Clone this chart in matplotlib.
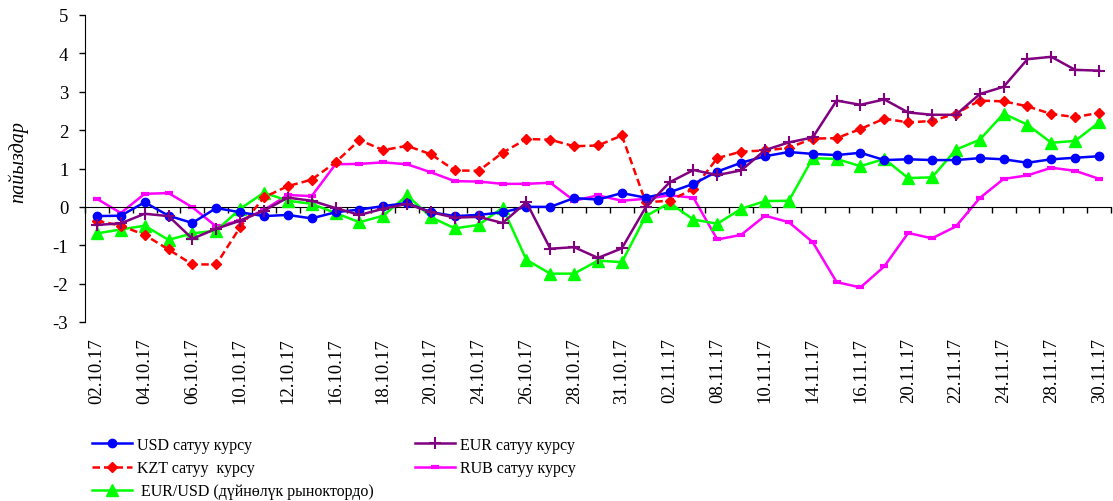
import numpy as np
import matplotlib
matplotlib.use("Agg")
import matplotlib.pyplot as plt

plt.rcParams['font.family'] = ['Liberation Serif', 'DejaVu Serif']
plt.rcParams['axes.unicode_minus'] = False

dates = ['02.10.17', '03.10.17', '04.10.17', '05.10.17', '06.10.17', '09.10.17', '10.10.17',
         '11.10.17', '12.10.17', '13.10.17', '16.10.17', '17.10.17', '18.10.17', '19.10.17',
         '20.10.17', '23.10.17', '24.10.17', '25.10.17', '26.10.17', '27.10.17', '28.10.17',
         '30.10.17', '31.10.17', '01.11.17', '02.11.17', '06.11.17', '08.11.17', '09.11.17',
         '10.11.17', '13.11.17', '14.11.17', '15.11.17', '16.11.17', '17.11.17', '20.11.17',
         '21.11.17', '22.11.17', '23.11.17', '24.11.17', '27.11.17', '28.11.17', '29.11.17',
         '30.11.17']

usd = [-0.24, -0.23, 0.12, -0.23, -0.42, -0.03, -0.14, -0.24, -0.21, -0.30, -0.14, -0.07,
       0.02, 0.10, -0.14, -0.24, -0.21, -0.14, 0.00, 0.00, 0.23, 0.19, 0.36, 0.24, 0.38,
       0.60, 0.92, 1.15, 1.32, 1.43, 1.38, 1.35, 1.41, 1.22, 1.24, 1.22, 1.22, 1.27, 1.24,
       1.15, 1.24, 1.28, 1.32]
kzt = [-0.36, -0.49, -0.73, -1.11, -1.50, -1.50, -0.53, 0.25, 0.54, 0.71, 1.16, 1.74,
       1.48, 1.59, 1.37, 0.95, 0.94, 1.41, 1.77, 1.75, 1.58, 1.60, 1.86, 0.12, 0.16, 0.47,
       1.27, 1.44, 1.47, 1.54, 1.78, 1.79, 2.03, 2.30, 2.20, 2.24, 2.43, 2.77, 2.75, 2.62,
       2.42, 2.34, 2.45]
eurusd = [-0.69, -0.59, -0.49, -0.86, -0.69, -0.62, -0.05, 0.37, 0.16, 0.08, -0.16, -0.40,
          -0.23, 0.30, -0.27, -0.56, -0.47, -0.02, -1.38, -1.74, -1.74, -1.40, -1.44, -0.24,
          0.10, -0.33, -0.44, -0.05, 0.15, 0.16, 1.27, 1.25, 1.06, 1.25, 0.75, 0.77, 1.49,
          1.75, 2.43, 2.14, 1.67, 1.72, 2.20]
eur = [-0.47, -0.43, -0.18, -0.24, -0.83, -0.57, -0.36, -0.10, 0.24, 0.16, -0.03, -0.21,
       -0.05, 0.08, -0.14, -0.28, -0.26, -0.42, 0.12, -1.09, -1.05, -1.33, -1.08, -0.01,
       0.64, 0.96, 0.83, 0.95, 1.48, 1.68, 1.81, 2.77, 2.66, 2.80, 2.46, 2.40, 2.40, 2.94,
       3.13, 3.85, 3.91, 3.57, 3.55]
rub = [0.21, -0.16, 0.34, 0.36, -0.01, -0.51, -0.36, -0.08, 0.31, 0.28, 1.11, 1.12, 1.16,
       1.11, 0.90, 0.67, 0.66, 0.60, 0.60, 0.63, 0.16, 0.30, 0.16, 0.21, 0.30, 0.24, -0.85,
       -0.73, -0.23, -0.40, -0.92, -1.96, -2.10, -1.55, -0.68, -0.82, -0.51, 0.23, 0.73,
       0.82, 1.02, 0.94, 0.73]

W, H = 1113, 502
fig = plt.figure(figsize=(W / 100, H / 100), dpi=100)
ax = fig.add_axes([85 / W, 1 - 323 / H, (1111 - 85) / W, (323 - 16) / H])

x = np.arange(len(dates))
l_usd, = ax.plot(x, usd, color='#0000FF', lw=1.8, marker='o', ms=6, label='USD сатуу курсу', zorder=5)
l_kzt, = ax.plot(x, kzt, color='#FF0000', lw=1.8, ls=(0, (3, 1.6)), marker='D', ms=5,
                 label='KZT сатуу  курсу', zorder=4)
l_eu, = ax.plot(x, eurusd, color='#00FF00', lw=1.8, marker='^', ms=8,
                label=' EUR/USD (дүйнөлүк рыноктордо)', zorder=3)
l_eur, = ax.plot(x, eur, color='#800080', lw=1.8, marker='+', ms=9, mew=1.5,
                 label='EUR сатуу курсу', zorder=6)
l_rub, = ax.plot(x, rub, color='#FF00FF', lw=1.8, marker='_', ms=6, mew=3,
                 label='RUB сатуу курсу', zorder=2)

ax.set_xlim(-0.5, len(dates) - 0.5)
ax.set_ylim(-3, 5)
ax.set_yticks(range(-3, 6))
ax.tick_params(axis='y', labelsize=13.5, length=4, pad=8, width=1)

for s in ['top', 'right']:
    ax.spines[s].set_visible(False)
ax.spines['bottom'].set_position(('data', 0))
ax.set_xticks(np.arange(-0.5, len(dates), 1))
ax.set_xticklabels([])
ax.tick_params(axis='x', length=4, width=1, direction='out')

sec = ax.secondary_xaxis(0)
sec.set_xticks(x[::2])
sec.set_xticklabels(dates[::2], rotation=90, fontsize=13.5)
sec.tick_params(length=0, pad=11)
sec.spines['bottom'].set_visible(False)

fig.text(18 / W, 1 - 162 / H, 'пайыздар', rotation=90, ha='center', va='center',
         style='italic', fontsize=14.5)

common = dict(frameon=False, borderpad=0, borderaxespad=0, handlelength=2.5,
              handletextpad=0.3, labelspacing=0.45, prop={'size': 11.5}, loc='upper left')
fig.legend(handles=[l_usd, l_kzt, l_eu], bbox_to_anchor=(92 / W, 1 - 438 / H), **common)
fig.legend(handles=[l_eur, l_rub], bbox_to_anchor=(415 / W, 1 - 438 / H), **common)

fig.savefig('out.png', dpi=100)
